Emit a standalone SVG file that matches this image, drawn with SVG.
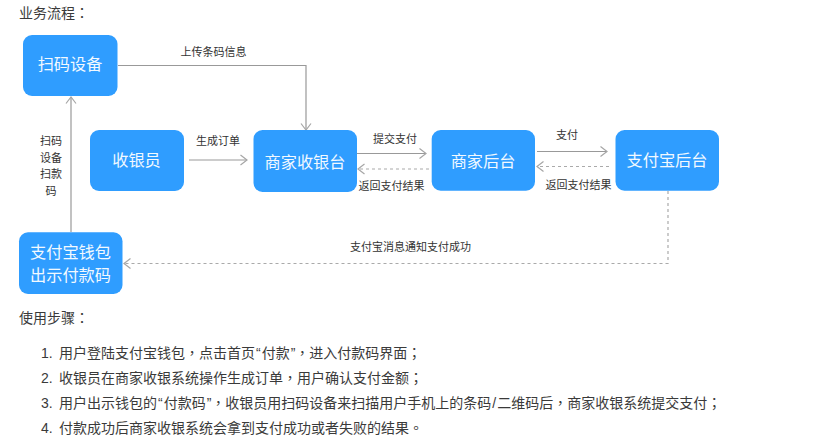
<svg xmlns="http://www.w3.org/2000/svg" width="831" height="439" viewBox="0 0 831 439">
<defs>
<marker id="arr" markerUnits="userSpaceOnUse" markerWidth="10" markerHeight="12" refX="7.5" refY="6" orient="auto"><path d="M1 1L7.5 6L1 11" fill="none" stroke="#a6a6a6" stroke-width="1.2"/></marker>
</defs>
<style>
text{font-family:"Liberation Sans","Noto Sans CJK SC",sans-serif}
.p{font-family:"Noto Sans CJK TC",sans-serif}
.n{fill:#2f9dff}
.nt{fill:#f2f9ff;font-size:16.2px;text-anchor:middle}
.e{font-size:11px;fill:#333;text-anchor:middle}
.b{font-size:14px;fill:#3a3a3a}
.c{fill:none;stroke:#999;stroke-width:1.2;marker-end:url(#arr)}
.d{stroke:#aaa;stroke-dasharray:3 3}
</style>
<rect width="831" height="439" fill="#fff"/>
<text class="b" x="19" y="18">业务流程<tspan class="p">：</tspan></text>
<g id="connectors">
<path class="c" d="M118 65.5H306V130"/>
<path class="c" d="M71 232V97"/>
<path class="c" d="M189 160H247"/>
<path class="c" d="M357 153.5H426"/>
<path class="c d" d="M429 169H358"/>
<path class="c" d="M537 151.5H607"/>
<path class="c d" d="M609 166.5H537"/>
<path class="c d" d="M668 191V263.5H124"/>
<text class="e" x="213.500" y="56">上传条码信息</text>
<text class="e" x="51" y="145">扫码</text>
<text class="e" x="51" y="162">设备</text>
<text class="e" x="51" y="178">扫款</text>
<text class="e" x="51" y="195">码</text>
<text class="e" x="218" y="145">生成订单</text>
<text class="e" x="395" y="143">提交支付</text>
<text class="e" x="391.500" y="190">返回支付结果</text>
<text class="e" x="567" y="139">支付</text>
<text class="e" x="578.500" y="189">返回支付结果</text>
<text class="e" x="410.500" y="251">支付宝消息通知支付成功</text>
</g>
<g id="node-scan"><rect class="n" x="23" y="35" width="94.500" height="61" rx="9"/><text class="nt" x="70" y="70">扫码设备</text></g>
<g id="node-cashier"><rect class="n" x="90" y="130" width="94" height="61" rx="9"/><text class="nt" x="136.500" y="166">收银员</text></g>
<g id="node-pos"><rect class="n" x="253.500" y="130" width="103.500" height="62" rx="9"/><text class="nt" x="305" y="168">商家收银台</text></g>
<g id="node-backend"><rect class="n" x="431.700" y="130" width="103.300" height="60.700" rx="9"/><text class="nt" x="483" y="167">商家后台</text></g>
<g id="node-alipay"><rect class="n" x="615.500" y="130" width="103.500" height="60.700" rx="9"/><text class="nt" x="667" y="166">支付宝后台</text></g>
<g id="node-wallet"><rect class="n" x="19" y="232.300" width="103.500" height="61.700" rx="9"/><text class="nt" x="70.500" y="258">支付宝钱包</text><text class="nt" x="70.500" y="281">出示付款码</text></g>
<text class="b" x="19" y="323">使用步骤<tspan class="p">：</tspan></text>
<text class="b" x="41" y="358">1.</text><text class="b" x="59" y="358">用户登陆支付宝钱包<tspan class="p">，</tspan>点击首页<tspan dx="1">“</tspan><tspan dx="1">付款</tspan><tspan dx="1">”</tspan><tspan class="p">，</tspan>进入付款码界面<tspan class="p">；</tspan></text>
<text class="b" x="41" y="383">2.</text><text class="b" x="59" y="383">收银员在商家收银系统操作生成订单<tspan class="p">，</tspan>用户确认支付金额<tspan class="p">；</tspan></text>
<text class="b" x="41" y="408">3.</text><text class="b" x="59" y="408">用户出示钱包的<tspan dx="1">“</tspan><tspan dx="1">付款码</tspan><tspan dx="1">”</tspan><tspan class="p">，</tspan>收银员用扫码设备来扫描用户手机上的条码<tspan dx="1">/</tspan><tspan dx="1">二维码后</tspan><tspan class="p">，</tspan>商家收银系统提交支付<tspan class="p">；</tspan></text>
<text class="b" x="41" y="433">4.</text><text class="b" x="59" y="433">付款成功后商家收银系统会拿到支付成功或者失败的结果<tspan class="p">。</tspan></text>
</svg>
